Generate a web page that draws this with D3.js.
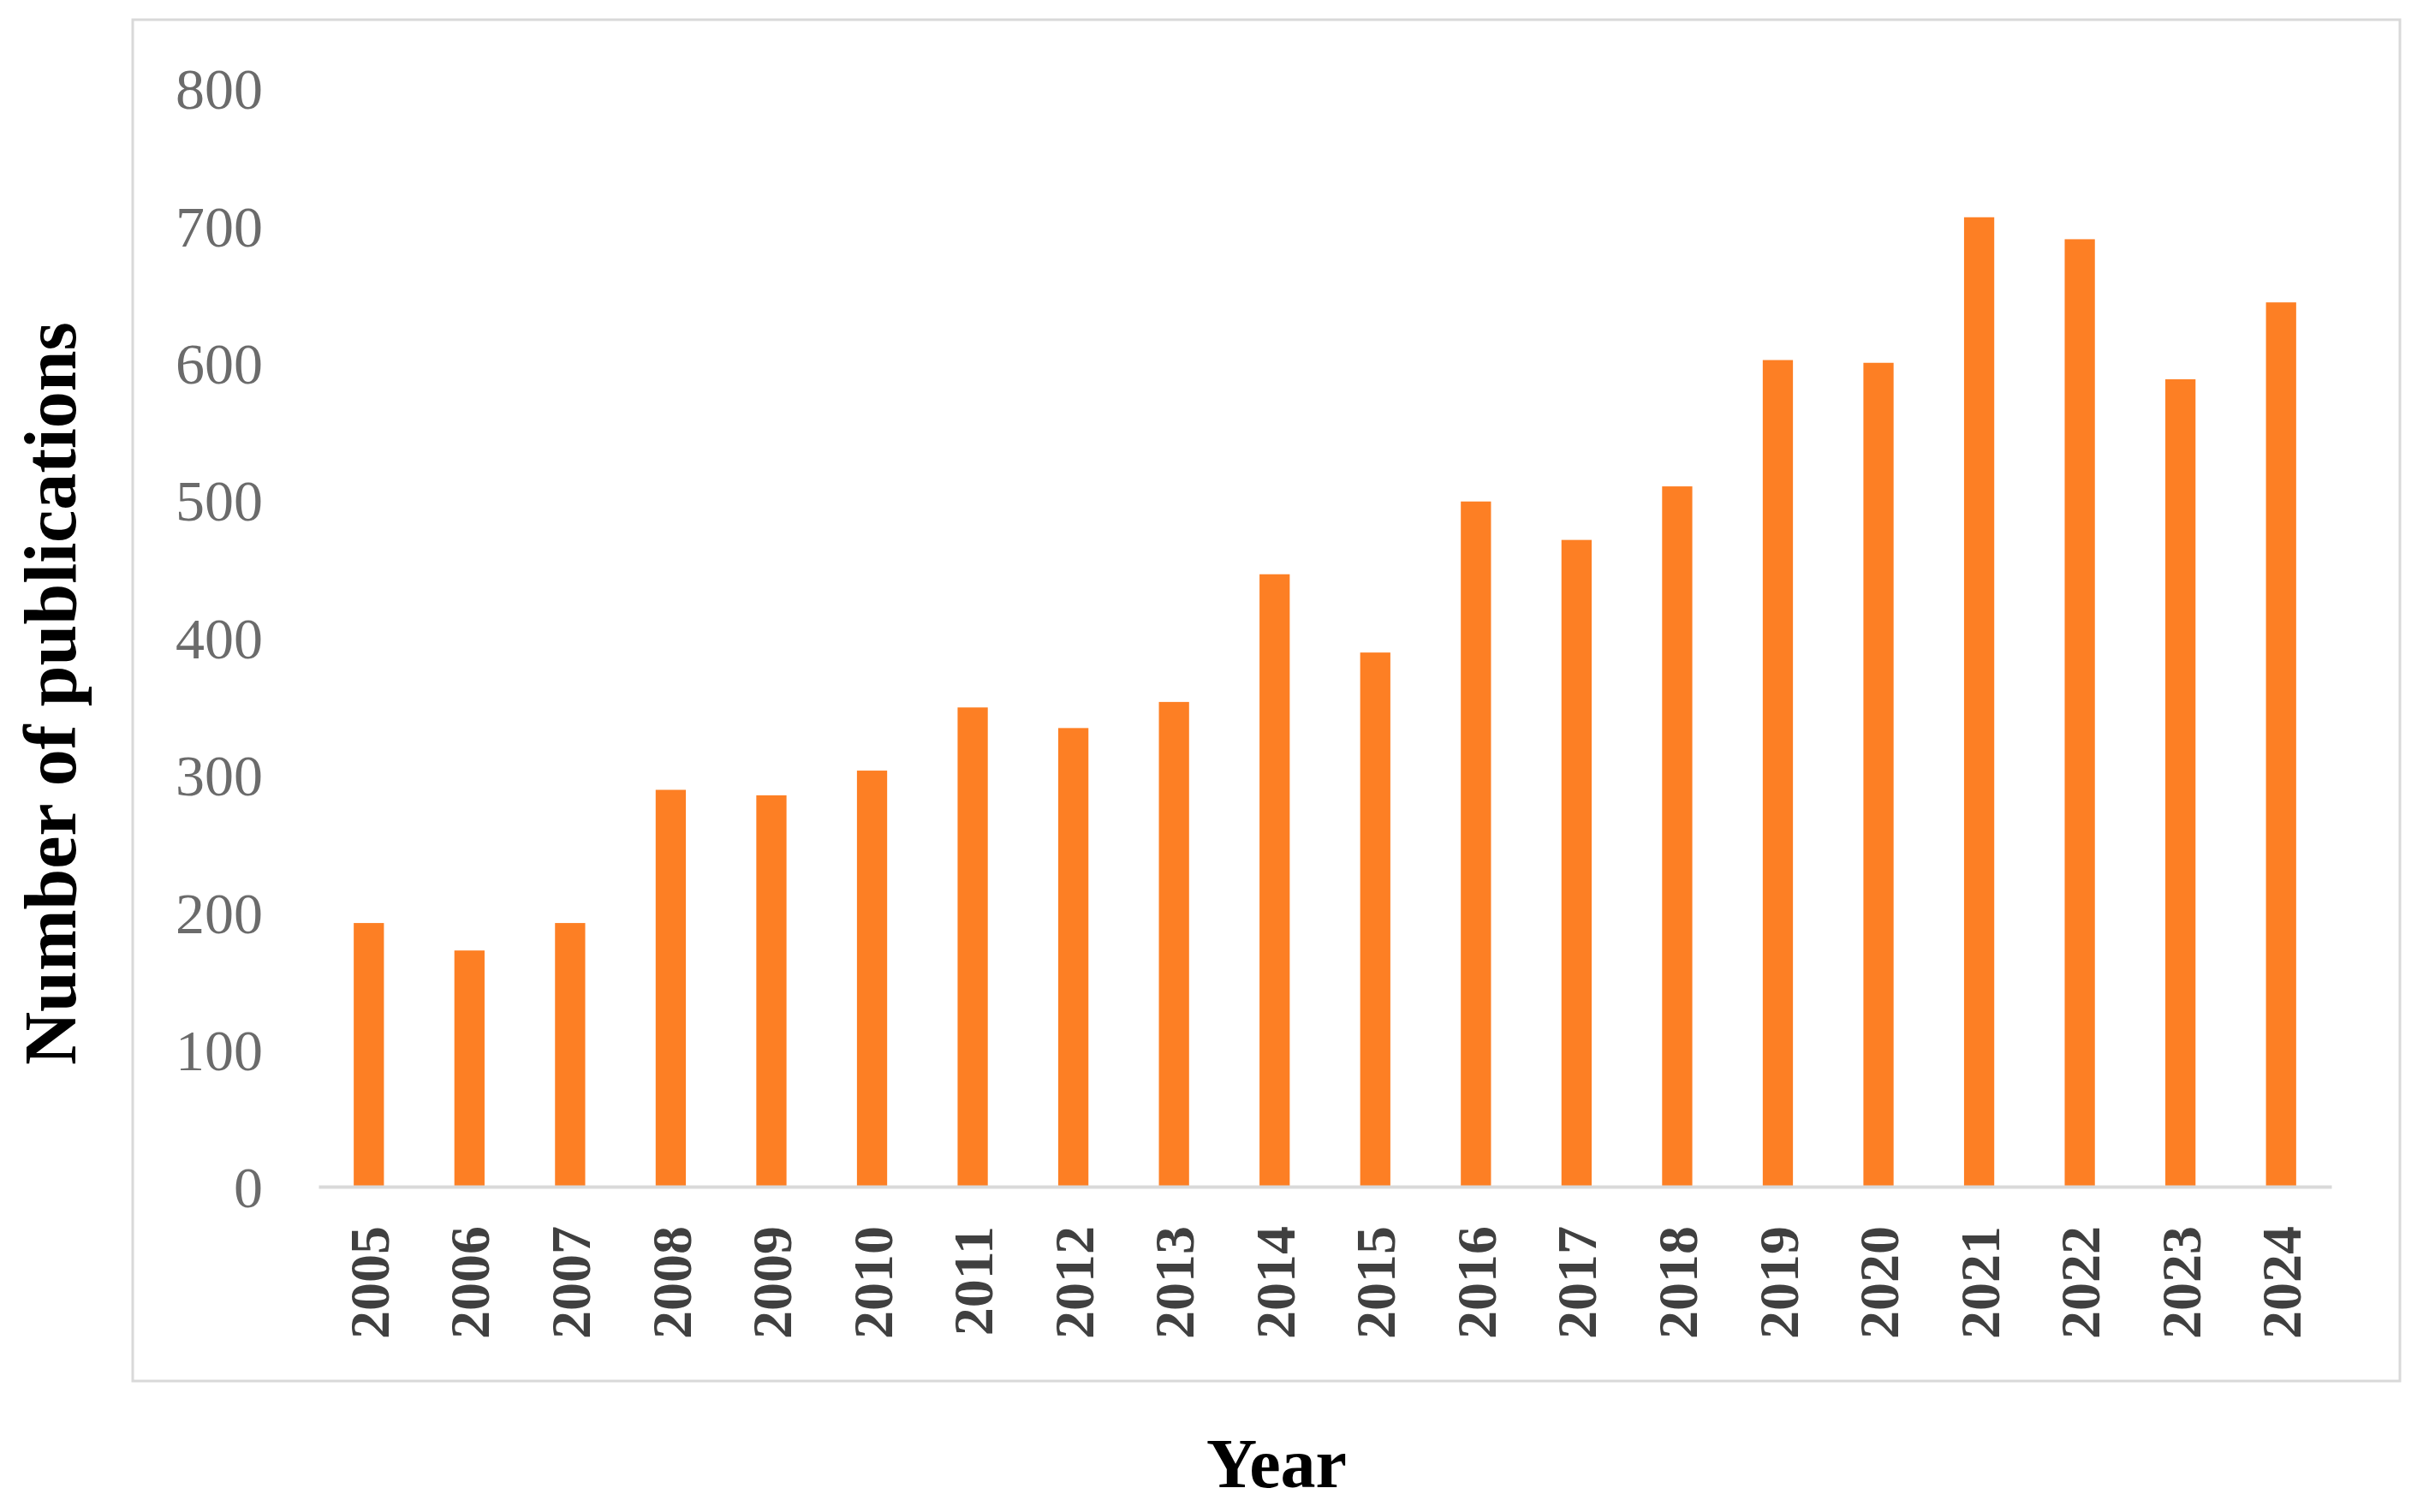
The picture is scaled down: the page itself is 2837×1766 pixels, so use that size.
<!DOCTYPE html>
<html>
<head>
<meta charset="utf-8">
<script src="https://cdn.jsdelivr.net/npm/d3@7"></script>
<style>
  html, body { margin: 0; padding: 0; background: #fff; }
  svg { display: block; }
</style>
</head>
<body>
<script>
const years = ["2005","2006","2007","2008","2009","2010","2011","2012","2013","2014","2015","2016","2017","2018","2019","2020","2021","2022","2023","2024"];
const publications = [192, 172, 192, 289, 285, 303, 349, 334, 353, 446, 389, 499, 471, 510, 602, 600, 706, 690, 588, 644];
const yTicks = [0, 100, 200, 300, 400, 500, 600, 700, 800];

const W = 2837, H = 1766;
const svg = d3.select("body").append("svg").attr("width", W).attr("height", H);

// outer frame
svg.append("rect")
  .attr("x", 155).attr("y", 23).attr("width", 2803 - 155).attr("height", 1613 - 23)
  .attr("fill", "none").attr("stroke", "#d9d9d9").attr("stroke-width", 3);

const x = d3.scaleBand().domain(years).range([372, 2723]).paddingInner(0.7).paddingOuter(0.35);
const y = d3.scaleLinear().domain([0, 800]).range([1386, 103]);

// bars
svg.append("g").selectAll("rect").data(years).join("rect")
  .attr("x", d => x(d))
  .attr("width", x.bandwidth())
  .attr("y", (d, i) => y(publications[i]))
  .attr("height", (d, i) => y(0) - y(publications[i]))
  .attr("fill", "#fd7f24");

// x axis
const xAxis = svg.append("g").attr("transform", `translate(0,${y(0)})`)
  .call(d3.axisBottom(x).tickSize(0).tickSizeOuter(0));
xAxis.select(".domain").attr("stroke", "#d9d9d9").attr("stroke-width", 4);
xAxis.selectAll("text")
  .attr("transform", "rotate(-90)")
  .attr("text-anchor", "end")
  .attr("x", -46)
  .attr("y", 0)
  .attr("dy", "0.35em")
  .attr("font-family", "'Liberation Serif', 'Times New Roman', serif")
  .attr("font-weight", "bold")
  .attr("font-size", 66)
  .attr("fill", "#404040");

// y axis
const yAxis = svg.append("g").attr("transform", "translate(307,0)")
  .call(d3.axisLeft(y).tickValues(yTicks).tickSize(0));
yAxis.select(".domain").remove();
yAxis.selectAll("text")
  .attr("x", 0)
  .attr("dy", "0.35em")
  .attr("font-family", "'Liberation Serif', 'Times New Roman', serif")
  .attr("font-size", 68)
  .attr("fill", "#6b6b6b");

// axis titles
svg.append("text")
  .attr("x", 1491).attr("y", 1737)
  .attr("text-anchor", "middle")
  .attr("font-family", "'Liberation Serif', 'Times New Roman', serif")
  .attr("font-weight", "bold")
  .attr("font-size", 82)
  .attr("fill", "#000")
  .text("Year");

svg.append("text")
  .attr("transform", "translate(58,810) rotate(-90)")
  .attr("text-anchor", "middle")
  .attr("dy", "0.35em")
  .attr("font-family", "'Liberation Serif', 'Times New Roman', serif")
  .attr("font-weight", "bold")
  .attr("font-size", 86)
  .attr("fill", "#000")
  .text("Number of publications");
</script>
</body>
</html>
